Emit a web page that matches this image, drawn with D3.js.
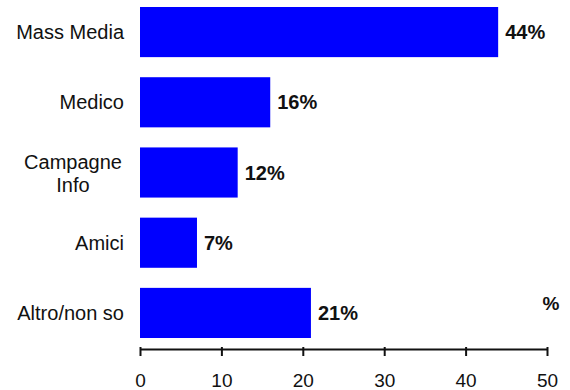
<!DOCTYPE html>
<html>
<head>
<meta charset="utf-8">
<script src="https://cdn.jsdelivr.net/npm/d3@7"></script>
<style>
  html, body { margin: 0; padding: 0; background: #fff; }
  svg { display: block; font-family: "Liberation Sans", Arial, sans-serif; }
</style>
</head>
<body>
<svg id="chart" width="570" height="390"></svg>
<script>
// Sources of information (percent of respondents)
const categories = ["Mass Media", "Medico", "Campagne\nInfo", "Amici", "Altro/non so"];
const values = [44, 16, 12, 7, 21];
const ticks = [0, 10, 20, 30, 40, 50];
const unitLabel = "%";

const svg = d3.select("#chart");
const plotLeft = 140, plotRight = 547, barsTop = 7, barsBottom = 338, axisY = 349;

const x = d3.scaleLinear().domain([0, 50]).range([plotLeft, plotRight]);
const y = d3.scaleBand().domain(categories).range([barsTop, barsBottom]).paddingInner(0.286).paddingOuter(0);

// Bars
svg.append("g").selectAll("rect")
  .data(values)
  .join("rect")
  .attr("x", x(0))
  .attr("y", (d, i) => y(categories[i]))
  .attr("width", d => x(d) - x(0))
  .attr("height", y.bandwidth())
  .attr("fill", "#0000ff");

// Value labels
svg.append("g").selectAll("text")
  .data(values)
  .join("text")
  .attr("x", d => x(d) + 7)
  .attr("y", (d, i) => y(categories[i]) + y.bandwidth() / 2 + 7)
  .attr("font-size", 20)
  .attr("font-weight", "bold")
  .attr("fill", "#111")
  .text(d => d + "%");

// Category labels: right aligned block, lines centred within multi-line labels
const catG = svg.append("g");
categories.forEach(c => {
  const lines = c.split("\n");
  const cy = y(c) + y.bandwidth() / 2;
  const t = catG.append("text")
    .attr("font-size", 20)
    .attr("fill", "#111");
  if (lines.length === 1) {
    t.attr("x", 124).attr("y", cy + 7).attr("text-anchor", "end").text(c);
  } else {
    lines.forEach((ln, j) => {
      t.append("tspan")
        .attr("x", 73)
        .attr("y", cy - 4 + j * 23)
        .attr("text-anchor", "middle")
        .text(ln);
    });
  }
});

// Bottom axis
const axis = d3.axisBottom(x).tickValues(ticks).tickSize(7).tickSizeOuter(0).tickFormat(d3.format("d"));
const ag = svg.append("g").attr("transform", `translate(0,${axisY})`).call(axis);
ag.select(".domain").attr("stroke", "#111").attr("stroke-width", 2);
ag.selectAll(".tick line").attr("stroke", "#111").attr("stroke-width", 2).attr("y1", -2);
ag.selectAll(".tick text").attr("font-size", 19).attr("fill", "#111").attr("dy", "0").attr("y", 38)
  .attr("font-family", "'Liberation Sans', Arial, sans-serif");

// Unit label
svg.append("text")
  .attr("x", 551).attr("y", 310)
  .attr("text-anchor", "middle")
  .attr("font-size", 19).attr("font-weight", "bold").attr("fill", "#111")
  .text(unitLabel);
</script>
</body>
</html>
